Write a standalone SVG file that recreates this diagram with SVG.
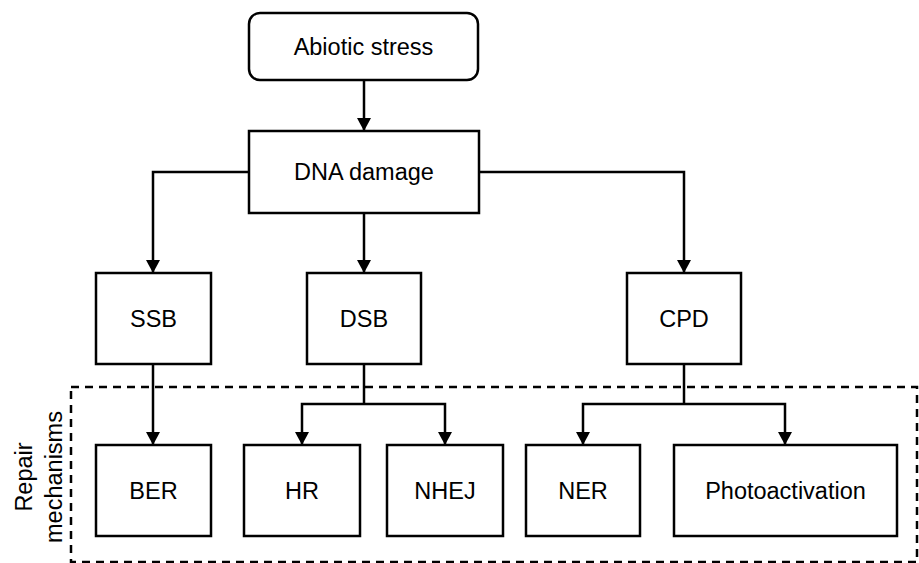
<svg xmlns="http://www.w3.org/2000/svg" width="919" height="563" viewBox="0 0 919 563">
<defs>
<marker id="ah" viewBox="0 0 13 14" refX="13" refY="7" markerWidth="13" markerHeight="14" markerUnits="userSpaceOnUse" orient="auto">
<path d="M0,0 L13,7 L0,14 Z" fill="#000"/>
</marker>
</defs>
<style>
.box{fill:#fff;stroke:#000;stroke-width:2.5}
.lbl{font-family:"Liberation Sans",Arial,sans-serif;font-size:23.5px;fill:#000;text-anchor:middle;dominant-baseline:central}
.con{fill:none;stroke:#000;stroke-width:2.5}
.arr{fill:none;stroke:#000;stroke-width:2.5;marker-end:url(#ah)}
</style>
<rect width="919" height="563" fill="#fff"/>
<g id="repair-group">
<rect x="71" y="387" width="846" height="175" fill="none" stroke="#000" stroke-width="2.5" stroke-dasharray="8,6"/>
<text class="lbl" transform="translate(24,477) rotate(-90)">Repair</text>
<text class="lbl" transform="translate(54,477) rotate(-90)">mechanisms</text>
</g>
<g id="connectors">
<path class="arr" d="M364,80 V131"/>
<path class="arr" d="M249,172 H153 V273"/>
<path class="arr" d="M364,213 V273"/>
<path class="arr" d="M479,172 H684 V273"/>
<path class="arr" d="M153,364 V445"/>
<path class="con" d="M364,364 V404"/>
<path class="arr" d="M364,404 H302 V445"/>
<path class="arr" d="M364,404 H445 V445"/>
<path class="con" d="M684,364 V404"/>
<path class="arr" d="M684,404 H583 V445"/>
<path class="arr" d="M684,404 H785 V445"/>
</g>
<g id="abiotic"><rect class="box" x="249" y="13" width="229" height="67" rx="11"/><text class="lbl" x="363.5" y="47">Abiotic stress</text></g>
<g id="dna"><rect class="box" x="249" y="131" width="230" height="82"/><text class="lbl" x="364" y="172">DNA damage</text></g>
<g id="ssb"><rect class="box" x="96" y="273" width="115" height="91"/><text class="lbl" x="153.5" y="319">SSB</text></g>
<g id="dsb"><rect class="box" x="307" y="273" width="114" height="91"/><text class="lbl" x="364" y="319">DSB</text></g>
<g id="cpd"><rect class="box" x="627" y="273" width="114" height="91"/><text class="lbl" x="684" y="319">CPD</text></g>
<g id="ber"><rect class="box" x="96" y="445" width="115" height="91"/><text class="lbl" x="153.5" y="491">BER</text></g>
<g id="hr"><rect class="box" x="244" y="445" width="116" height="91"/><text class="lbl" x="302" y="491">HR</text></g>
<g id="nhej"><rect class="box" x="387" y="445" width="116" height="91"/><text class="lbl" x="445" y="491">NHEJ</text></g>
<g id="ner"><rect class="box" x="526" y="445" width="114" height="91"/><text class="lbl" x="583" y="491">NER</text></g>
<g id="photo"><rect class="box" x="674" y="445" width="223" height="91"/><text class="lbl" x="785.5" y="491">Photoactivation</text></g>
</svg>
